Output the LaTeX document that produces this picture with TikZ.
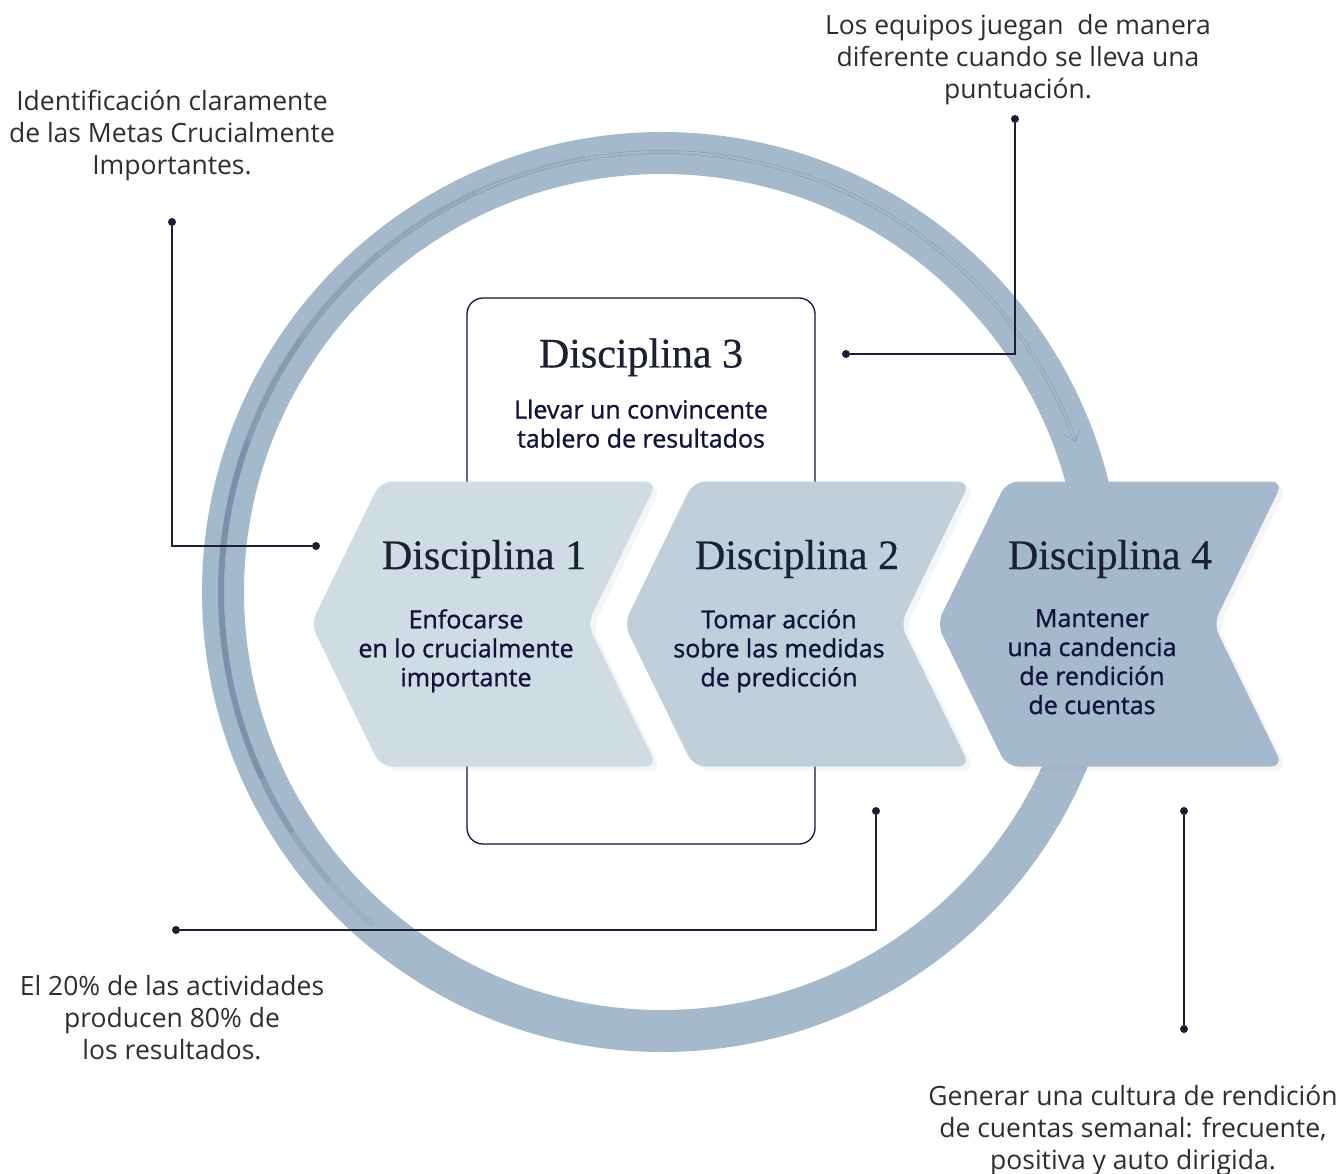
\documentclass[tikz,border=0pt]{standalone}
\usepackage{fontspec}
\setmainfont{Open Sans}
\newfontfamily\headfont{Liberation Serif}[FakeBold=0.5]
\newfontfamily\bodyfont{Open Sans}[FakeBold=1]
\usetikzlibrary{positioning,shapes.symbols,shadows,arrows.meta}

\definecolor{ringcol}{HTML}{A5B9CC}
\definecolor{ringdark}{HTML}{6F8AA6}
\definecolor{ringline}{HTML}{8198B0}
\definecolor{dAfill}{HTML}{CFDCE4}
\definecolor{dBfill}{HTML}{BFCFDC}
\definecolor{dDfill}{HTML}{A5B9CC}
\definecolor{navy}{HTML}{12123E}
\definecolor{headcol}{HTML}{1C2033}
\definecolor{notecol}{HTML}{2E2E32}
\definecolor{linecol}{HTML}{1A1F33}

\begin{document}
\begin{tikzpicture}[x=1pt, y=1pt, node distance=10pt]
	% Define styles for the shapes and texts
	\tikzset{
		chevron/.style={
			signal,
			signal to=west,
			signal from=east,
			signal pointer angle=128,
			minimum width=346pt,
			minimum height=285pt,
			inner sep=0pt,
			rounded corners=12pt,
			drop shadow={opacity=0.08, shadow xshift=5pt, shadow yshift=-4pt}
		},
		d3box/.style={
			rectangle,
			draw=navy,
			line width=1.3pt,
			fill=white,
			rounded corners=16pt,
			minimum width=348pt,
			minimum height=546pt
		},
		heading/.style={font=\headfont\fontsize{42}{46}\selectfont, text=headcol, inner sep=0pt},
		body/.style={font=\bodyfont\fontsize{25}{29}\selectfont, text=navy, align=center, inner sep=0pt},
		note/.style={font=\fontsize{26.5}{32}\selectfont, text=notecol, align=center, inner sep=0pt},
		dot/.style={circle, fill=linecol, inner sep=0pt, minimum size=8pt},
		leader/.style={draw=linecol, line width=1.4pt}
	}
	
	% Page
	\fill[white] (0,0) rectangle (1341,-1174);
	\useasboundingbox (0,0) rectangle (1341,-1174);
	
	% Ring with arrow
	\coordinate (O) at (662,-592);
	\draw[ringcol, line width=42pt] (O) circle[radius=439pt];
	\draw[draw=ringline, line width=0.5pt, double=ringcol, double distance=2.5pt, -{Straight Barb[length=9pt, width=16pt]}]
		([shift={(190:440pt)}]O) arc[start angle=190, end angle=20, radius=440pt];
	% darker stroke on the left half, fading out at both ends
	\foreach \a/\b/\o in {100/115/0.12, 115/130/0.25, 130/145/0.4, 145/160/0.55, 160/205/0.8, 205/213/0.6, 213/221/0.35, 221/229/0.15}
		\draw[ringdark, line width=6pt, opacity=\o] ([shift={(\a:441pt)}]O) arc[start angle=\a, end angle=\b, radius=441pt];
	
	% Disciplina 3 box behind the chevrons
	\node[d3box] (d3) at (641,-571) {};
	\node[heading] (h3) at ([yshift=-60pt]d3.north) {Disciplina 3};
	\node[body, anchor=north] (b3) at ([yshift=-102pt]d3.north) {Llevar un convincente\\tablero de resultados};
	
	% Chevrons
	\node[chevron, fill=dAfill] (d1) at (484,-624) {};
	\node[chevron, fill=dBfill] (d2) at (797,-624) {};
	\node[chevron, fill=dDfill] (d4) at (1110,-624) {};
	
	\node[heading] (h1) at ([yshift=65pt]d1.center) {Disciplina 1};
	\node[heading] (h2) at ([yshift=65pt]d2.center) {Disciplina 2};
	\node[heading] (h4) at ([yshift=65pt]d4.center) {Disciplina 4};
	
	\node[body, anchor=north] (b1) at ([xshift=-18pt, yshift=15pt]d1.center) {Enfocarse\\en lo crucialmente\\importante};
	\node[body, anchor=north] (b2) at ([xshift=-18pt, yshift=15pt]d2.center) {Tomar acción\\sobre las medidas\\de predicción};
	\node[body, anchor=north] (b4) at ([xshift=-18pt, yshift=15pt]d4.center) {Mantener\\una candencia\\de rendición\\de cuentas};
	
	% Notes
	\node[note] (n1) at (172,-136) {Identificación claramente\\de las Metas Crucialmente\\Importantes.};
	\node[note] (n2) at (1018,-60) {Los equipos juegan\ \ de manera\\diferente cuando se lleva una\\puntuación.};
	\node[note] (n3) at (172,-1018) {El 20\% de las actividades\\producen 80\% de\\los resultados.};
	\node[note] (n4) at (1133,-1131) {Generar una cultura de rendición\\de cuentas semanal: frecuente,\\positiva y auto dirigida.};
	
	% Leader lines with dots
	\node[dot] (p1s) at (172,-222) {};
	\node[dot] (p1e) at (316,-546) {};
	\node[dot] (p2s) at (1015,-119) {};
	\node[dot] (p2e) at (846,-354) {};
	\node[dot] (p3s) at (176,-930) {};
	\node[dot] (p3e) at (876,-811) {};
	\node[dot] (p4s) at (1184,-811) {};
	\node[dot] (p4e) at (1184,-1029) {};
	
	\draw[leader] (p1s) |- (p1e);
	\draw[leader] (p2s) |- (p2e);
	\draw[leader] (p3s) -| (p3e);
	\draw[leader] (p4s) -- (p4e);
\end{tikzpicture}
\end{document}
